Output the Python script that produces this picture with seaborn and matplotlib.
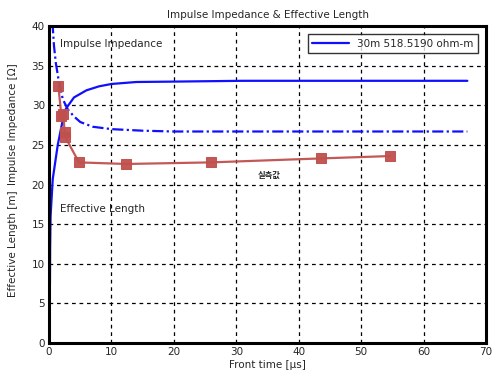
import numpy as np
import pandas as pd
import matplotlib
matplotlib.use("Agg")
import matplotlib.pyplot as plt
import seaborn as sns

# --- Data ---
len_t = [0.15, 0.18, 0.25, 0.6, 1.4, 2.5, 3.0, 4.0, 6.0, 8.0, 10.0, 14.0, 20.0, 31.0, 67.0]
len_v = [7.5, 12.0, 16.0, 20.7, 25.0, 29.3, 29.9, 31.0, 31.9, 32.4, 32.7, 32.95, 33.0, 33.1, 33.1]

imp_t = [0.55, 0.8, 1.1, 1.5, 2.2, 3.0, 4.0, 5.0, 7.0, 10.0, 15.0, 20.0, 67.0]
imp_v = [40.5, 37.5, 35.3, 33.4, 30.8, 29.5, 28.6, 27.9, 27.3, 27.0, 26.8, 26.7, 26.7]

meas_t = [1.5, 2.0, 2.3, 2.5, 2.6, 4.8, 12.4, 25.9, 43.5, 54.6]
meas_v = [32.4, 28.6, 28.9, 26.6, 26.0, 22.8, 22.6, 22.8, 23.3, 23.6]

LEGEND = "30m 518.5190 ohm-m"

sns.set_style("white")
plt.rcParams['font.family'] = ['DejaVu Sans', 'Noto Sans CJK KR']
plt.rcParams['font.size'] = 7

fig = plt.figure(figsize=(4.95, 3.79), dpi=100)
ax = fig.add_axes([0.099, 0.095, 0.883, 0.836])

df_len = pd.DataFrame({"t": len_t, "v": len_v})
df_imp = pd.DataFrame({"t": imp_t, "v": imp_v})
df_meas = pd.DataFrame({"t": meas_t, "v": meas_v})

sns.lineplot(data=df_len, x="t", y="v", ax=ax, color="#1010ff", lw=1.6,
             sort=False, label=LEGEND)
sns.lineplot(data=df_imp, x="t", y="v", ax=ax, color="#1010ff", lw=1.6,
             sort=False, linestyle=(0, (5, 1.5, 1, 1.5)), legend=False)
sns.lineplot(data=df_meas, x="t", y="v", ax=ax, color="#c0504d", lw=1.6,
             sort=False, marker="s", markersize=7, markeredgecolor="#c0504d",
             alpha=0.95, legend=False)

ax.set_xlim(0, 70)
ax.set_ylim(0, 40)
ax.set_xticks(range(0, 71, 10))
ax.set_yticks(range(0, 41, 5))
ax.grid(True, color="black", linestyle=(0, (3, 3)), lw=0.9)
for s in ax.spines.values():
    s.set_visible(True)
    s.set_color("black")
    s.set_linewidth(2.2)
ax.tick_params(length=0, pad=3, labelsize=7.5)

ax.set_xlabel("Front time [\u03bcs]", fontsize=7.5, labelpad=2)
ax.set_ylabel("")
ax.set_title("Impulse Impedance & Effective Length", fontsize=7.5, pad=6)

ax.text(-0.082, 0.315, "Effective Length [m]", transform=ax.transAxes,
        rotation=90, ha="center", va="center", fontsize=7.5)
ax.text(-0.082, 0.69, "Impulse Impedance [\u03a9]", transform=ax.transAxes,
        rotation=90, ha="center", va="center", fontsize=7.5)

ax.text(1.7, 37.8, "Impulse Impedance", fontsize=7.5, va="center")
ax.text(1.7, 16.9, "Effective Length", fontsize=7.5, va="center")
ax.text(33.5, 21.2, "실측값", fontsize=6, va="center", fontweight="bold",
        family=['Noto Sans CJK KR', 'DejaVu Sans'])

leg = ax.legend(loc="upper right", fontsize=7.5, frameon=True, fancybox=False,
                borderaxespad=0.8, handlelength=3.5)
leg.get_frame().set_edgecolor("black")
leg.get_frame().set_linewidth(1.0)

fig.savefig("out.png", dpi=100)
